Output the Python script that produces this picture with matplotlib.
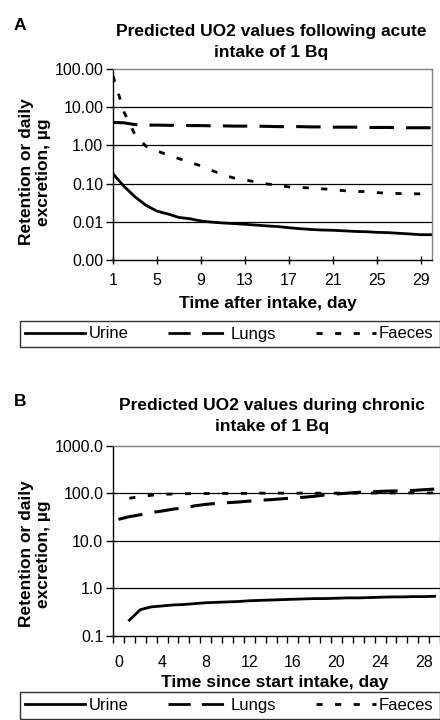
import numpy as np
import matplotlib
matplotlib.use("Agg")
import matplotlib.pyplot as plt
from matplotlib.ticker import FixedLocator, NullLocator, FuncFormatter

plt.rcParams['font.family'] = ['Liberation Sans', 'DejaVu Sans']

# A: acute intake of 1 Bq, days 1..30
days_a = list(range(1, 31))
urine_a = [0.18, 0.085, 0.045, 0.027, 0.019, 0.016, 0.013, 0.012, 0.0105, 0.0098,
           0.0093, 0.009, 0.0086, 0.0082, 0.0078, 0.0075, 0.0070, 0.0066, 0.0063, 0.0061,
           0.0060, 0.0058, 0.0056, 0.0055, 0.0053, 0.0052, 0.0050, 0.0048, 0.0046, 0.0046]
lungs_a = [4.0, 3.9, 3.5, 3.4, 3.4, 3.35, 3.35, 3.3, 3.3, 3.25,
           3.25, 3.2, 3.2, 3.2, 3.15, 3.1, 3.1, 3.1, 3.05, 3.05,
           3.0, 3.0, 3.0, 2.95, 2.95, 2.95, 2.9, 2.9, 2.9, 2.9]
faeces_a = [66, 7.5, 1.9, 0.95, 0.72, 0.56, 0.45, 0.36, 0.29, 0.22,
            0.17, 0.14, 0.125, 0.11, 0.098, 0.09, 0.082, 0.079, 0.077, 0.073,
            0.070, 0.065, 0.062, 0.062, 0.058, 0.056, 0.055, 0.054, 0.054, 0.053]

# B: chronic intake of 1 Bq, days 0..29
days_b = list(range(0, 30))
urine_b = [np.nan, 0.21, 0.35, 0.40, 0.42, 0.44, 0.45, 0.47, 0.49, 0.50,
           0.51, 0.52, 0.54, 0.55, 0.56, 0.57, 0.58, 0.59, 0.60, 0.60,
           0.61, 0.62, 0.62, 0.63, 0.64, 0.65, 0.65, 0.66, 0.66, 0.67]
lungs_b = [28, 32, 35, 39, 42, 46, 49, 54, 58, 61,
           63, 65, 68, 71, 73, 76, 79, 82, 86, 92,
           96, 100, 104, 107, 109, 111, 112, 114, 118, 122]
faeces_b = [np.nan, 78, 85, 90, 94, 96, 97, 98, 98, 99,
            99, 99, 99, 100, 100, 100, 100, 100, 100, 100,
            100, 100, 100, 100, 101, 101, 101, 101, 101, 101]

series_names = ["Urine", "Lungs", "Faeces"]

W, H = 440, 720
fig = plt.figure(figsize=(W / 100, H / 100), dpi=100)


def fx(px):
    return px / W


def fy(py):
    return 1 - py / H


def style_axes(ax):
    ax.set_yscale('log')
    ax.yaxis.set_minor_locator(NullLocator())
    for s in ['top', 'right']:
        ax.spines[s].set_color('#808080')
        ax.spines[s].set_linewidth(1.0)
    for s in ['left', 'bottom']:
        ax.spines[s].set_color('black')
        ax.spines[s].set_linewidth(1.0)
    ax.tick_params(axis='y', direction='out', length=5, width=1, labelsize=11.5, pad=2)
    ax.tick_params(axis='x', labelsize=11.5)


def draw_series(ax, x, u, l, f):
    ax.plot(x, u, color='black', lw=2.0, label=series_names[0])
    ax.plot(x, l, color='black', lw=2.2, dashes=(8, 4), label=series_names[1])
    ax.plot(x, f, color='black', lw=2.0, dashes=(2.2, 4.5), label=series_names[2])


def add_legend(ax, top_px, bottom_px):
    leg = ax.legend(loc='center', ncol=3, frameon=True, fancybox=False,
                    bbox_to_anchor=(fx(229.5), fy((top_px + bottom_px) / 2)),
                    bbox_transform=fig.transFigure, fontsize=12,
                    handlelength=3.6, handletextpad=0.2, columnspacing=2.35,
                    borderpad=0.35, borderaxespad=0)
    leg.get_frame().set_edgecolor('black')
    leg.get_frame().set_linewidth(1.0)
    for h in leg.get_lines():
        h.set_linewidth(2.0)
    return leg


# ---- panel A
ax1 = fig.add_axes([fx(113), fy(260), fx(432 - 113), (260 - 69) / H])
style_axes(ax1)
draw_series(ax1, days_a, urine_a, lungs_a, faeces_a)
ax1.set_xlim(1, 30)
ax1.set_ylim(0.001, 100)
ax1.yaxis.set_major_locator(FixedLocator([0.001, 0.01, 0.1, 1, 10, 100]))
ax1.yaxis.set_major_formatter(FuncFormatter(lambda v, p: f"{v:.2f}"))
ax1.set_xticks(list(range(1, 30, 4)))
ax1.tick_params(axis='x', direction='inout', length=6, width=1, pad=6)
for g in [0.01, 0.1, 1, 10]:
    ax1.axhline(g, color='black', lw=0.9, zorder=0)
add_legend(ax1, 319, 349)

fig.text(fx(20), fy(26), "A", fontsize=12.5, fontweight='bold', ha='center', va='center')
fig.text(fx(271), fy(42), "Predicted UO2 values following acute\nintake of 1 Bq",
         fontsize=12.5, fontweight='bold', ha='center', va='center', linespacing=1.45)
fig.text(fx(35), fy(172), "Retention or daily\nexcretion, µg", rotation=90,
         fontsize=12.5, fontweight='bold', ha='center', va='center', linespacing=1.1)
fig.text(fx(268), fy(303), "Time after intake, day", fontsize=12.5,
         fontweight='bold', ha='center', va='center')

# ---- panel B
ax2 = fig.add_axes([fx(113), fy(635.5), fx(440 - 113), (635.5 - 445.7) / H])
style_axes(ax2)
draw_series(ax2, days_b, urine_b, lungs_b, faeces_b)
ax2.set_xlim(-0.5, 29.5)
ax2.set_ylim(0.1, 1000)
ax2.yaxis.set_major_locator(FixedLocator([0.1, 1, 10, 100, 1000]))
ax2.yaxis.set_major_formatter(FuncFormatter(lambda v, p: f"{v:.1f}"))
ax2.set_xticks(list(range(0, 30, 4)))
ax2.set_xticks([d - 0.5 for d in days_b] + [29.5], minor=True)
ax2.tick_params(axis='x', which='major', length=0, pad=14)
ax2.tick_params(axis='x', which='minor', direction='out', length=5, width=1)
for g in [1, 10, 100]:
    ax2.axhline(g, color='black', lw=0.9, zorder=0)
add_legend(ax2, 693, 718)

fig.text(fx(20), fy(401), "B", fontsize=12.5, fontweight='bold', ha='center', va='center')
fig.text(fx(272), fy(416), "Predicted UO2 values during chronic\nintake of 1 Bq",
         fontsize=12.5, fontweight='bold', ha='center', va='center', linespacing=1.45)
fig.text(fx(35), fy(554), "Retention or daily\nexcretion, µg", rotation=90,
         fontsize=12.5, fontweight='bold', ha='center', va='center', linespacing=1.1)
fig.text(fx(275), fy(683), "Time since start intake, day", fontsize=12.5,
         fontweight='bold', ha='center', va='center')

fig.savefig("out.png", dpi=100)
